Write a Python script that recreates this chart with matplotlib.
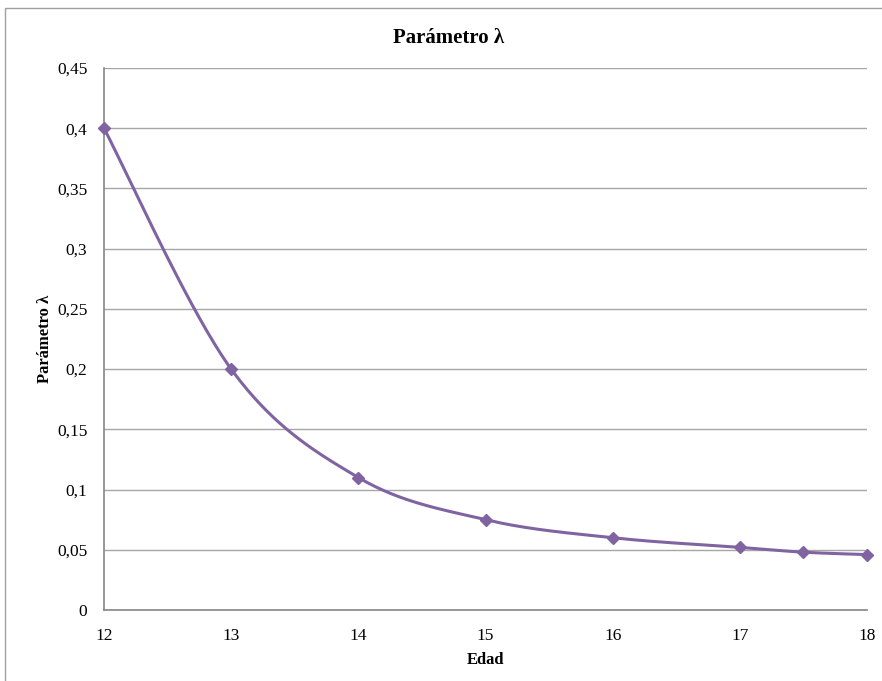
import numpy as np
import matplotlib
matplotlib.use("Agg")
import matplotlib.pyplot as plt
from matplotlib.patches import Rectangle
from matplotlib.ticker import FuncFormatter, MultipleLocator

plt.rcParams['font.family'] = ['Liberation Serif', 'DejaVu Serif']

edad = [12, 13, 14, 15, 16, 17, 17.5, 18]
lam = [0.4, 0.2, 0.11, 0.075, 0.06, 0.052, 0.048, 0.046]
x_ticks = [12, 13, 14, 15, 16, 17, 18]

color = '#8064A2'
grid_c = '#A6A6A6'
axis_c = '#868686'

fig = plt.figure(figsize=(8.82, 6.81), dpi=100)
fig.patches.append(Rectangle((5 / 882, -0.01), 1.0, 1 - 8 / 681 + 0.01,
                             transform=fig.transFigure, fill=False,
                             edgecolor='#A0A0A0', linewidth=1.0))

ax = fig.add_axes([104 / 882, 1 - 610 / 681, (867 - 104) / 882, (610 - 68) / 681])
ax.set_xlim(12, 18)
ax.set_ylim(0, 0.45)


def smooth(xs, ys, n=40):
    # Catmull-Rom style Bezier smoothing computed in display space
    w = ax.bbox.width
    h = ax.bbox.height
    px = (np.asarray(xs) - 12) / 6 * w
    py = np.asarray(ys) / 0.45 * h
    pts = np.column_stack([px, py])
    out = []
    for i in range(len(pts) - 1):
        p0 = pts[i - 1] if i > 0 else pts[i]
        p1 = pts[i]
        p2 = pts[i + 1]
        p3 = pts[i + 2] if i + 2 < len(pts) else pts[i + 1]
        c1 = p1 + (p2 - p0) / 6
        c2 = p2 - (p3 - p1) / 6
        t = np.linspace(0, 1, n)[:, None]
        seg = ((1 - t) ** 3) * p1 + 3 * ((1 - t) ** 2) * t * c1 + 3 * (1 - t) * t ** 2 * c2 + t ** 3 * p2
        out.append(seg if i == 0 else seg[1:])
    out = np.vstack(out)
    return out[:, 0] / w * 6 + 12, out[:, 1] / h * 0.45


sx, sy = smooth(edad, lam)
ax.plot(sx, sy, color=color, linewidth=2.2, solid_capstyle='round', zorder=3, clip_on=False)
ax.plot(edad, lam, linestyle='none', marker='D', markersize=6.5, color=color, zorder=4, clip_on=False)

ax.yaxis.set_major_locator(MultipleLocator(0.05))
ax.set_xticks(x_ticks)
ax.yaxis.set_major_formatter(FuncFormatter(lambda v, p: f"{round(v, 2):g}".replace('.', ',')))
ax.grid(axis='y', color=grid_c, linewidth=1.0)
ax.set_axisbelow(True)

for s in ['top', 'right']:
    ax.spines[s].set_visible(False)
for s in ['left', 'bottom']:
    ax.spines[s].set_color(axis_c)
    ax.spines[s].set_linewidth(1.2)

ax.tick_params(axis='both', colors=axis_c, labelcolor='black', labelsize=12.5, length=0)
ax.tick_params(axis='y', pad=12)
ax.tick_params(axis='x', pad=13)

ax.set_xlabel('Edad', fontsize=12, fontweight='bold', labelpad=6)
ax.set_ylabel('Parámetro λ', fontsize=12, fontweight='bold', labelpad=3)
fig.text(449 / 882, 1 - 38 / 681, 'Parámetro λ', ha='center', va='center', fontsize=15, fontweight='bold')

fig.savefig('out.png', dpi=100)
